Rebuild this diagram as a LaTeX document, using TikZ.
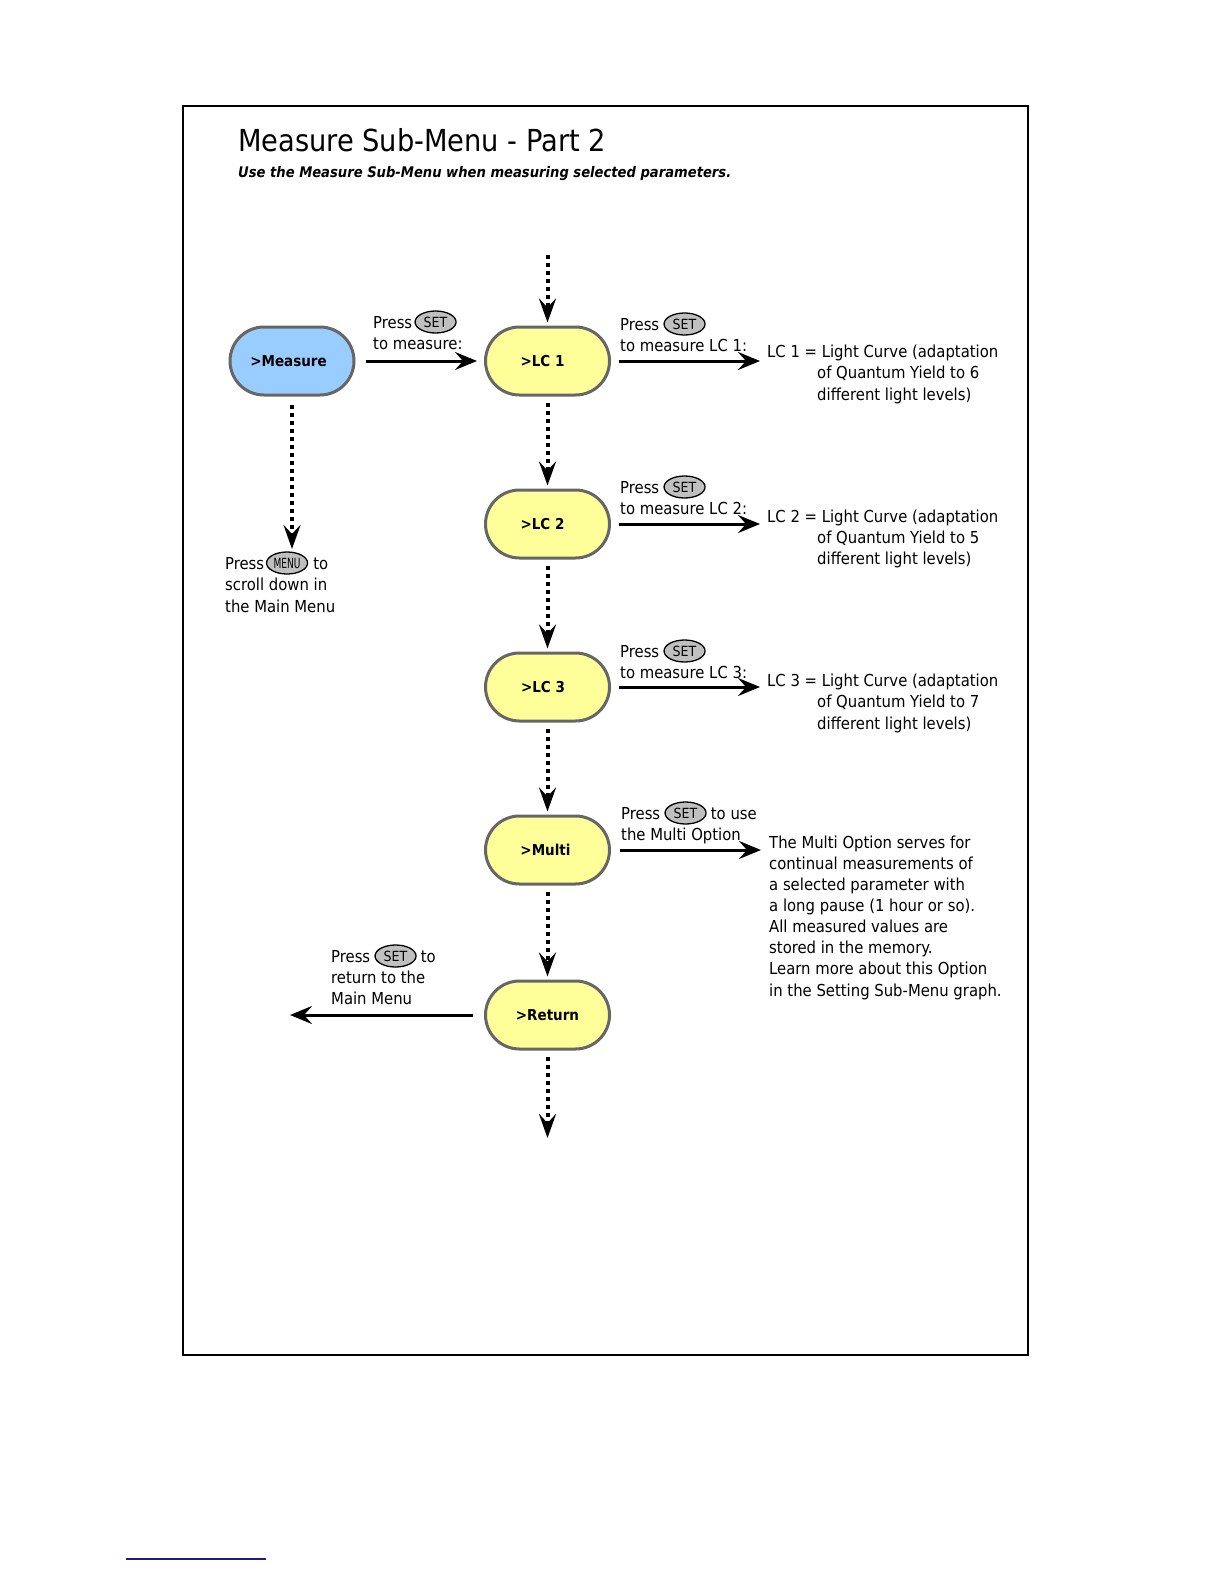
\documentclass[tikz,border=0pt]{standalone}
\usepackage{fontspec}
\usepackage{graphicx}
\setmainfont{DejaVu Sans Condensed}
\usetikzlibrary{arrows.meta,shapes.geometric,calc}
\definecolor{nodeblue}{HTML}{99CCFF}
\definecolor{nodeyellow}{HTML}{FFFF99}
\definecolor{nodeborder}{HTML}{666666}
\definecolor{btngray}{HTML}{C0C0C0}
\definecolor{rulenavy}{HTML}{1A1A8C}
\begin{document}
\begin{tikzpicture}[x=1pt,y=-1pt,
 menubox/.style={draw=nodeborder, line width=3pt, rounded corners=34pt, minimum width=124pt, minimum height=68pt, font=\bfseries\fontsize{15}{18}\selectfont, inner sep=0},
 yellowbox/.style={menubox, fill=nodeyellow},
 txt/.style={anchor=base west, inner sep=0, font=\fontsize{16.5}{19}\selectfont},
 btn/.style={ellipse, draw, line width=1.3pt, fill=btngray, minimum width=41pt, minimum height=22pt, inner sep=0, font=\fontsize{14}{15}\selectfont, anchor=west},
 solidarrow/.style={line width=3pt, -{Stealth[length=22pt,width=18pt,inset=8pt]}},
 dotarrow/.style={line width=4pt, dash pattern=on 4pt off 4pt, -{Stealth[length=24pt,width=17pt,inset=9pt]}}]
\useasboundingbox (0,0) rectangle (1224,1584);
\fill[white] (0,0) rectangle (1224,1584);
% frame
\draw[line width=2pt] (183,106) rectangle (1028,1355);
% title
\node[anchor=base west, inner sep=0, font=\fontsize{30.3}{36}\selectfont] (title) at (238,151) {Measure Sub-Menu - Part 2};
\node[anchor=base west, inner sep=0, font=\bfseries\itshape\fontsize{14.6}{18}\selectfont] (subtitle) at (238,177) {Use the Measure Sub-Menu when measuring selected parameters.};
% menu boxes
\node[menubox, fill=nodeblue] (measure) at (292,361) {\kern-7pt>Measure};
\node[yellowbox] (lc1) at (547.5,361) {\kern-10pt>LC 1};
\node[yellowbox] (lc2) at (547.5,524) {\kern-10pt>LC 2};
\node[yellowbox] (lc3) at (547.5,687) {\kern-9pt>LC 3};
\node[yellowbox] (multi) at (547.5,850) {\kern-4pt>Multi};
\node[yellowbox] (ret) at (547.5,1015) {>Return};
% free ends
\coordinate (topin) at (547.5,255);
\coordinate (measuredown) at (292,549);
\coordinate (botout) at (547.5,1138);
\coordinate (e0) at (760,361);
\coordinate (e1) at (760,524);
\coordinate (e2) at (760,687);
\coordinate (e3) at (761,850);
\coordinate (rl) at (290,1015);
% dotted arrows
\draw[dotarrow, shorten >=3pt] (topin) -- (lc1.north);
\draw[dotarrow, shorten <=6pt, shorten >=3pt] (lc1.south) -- (lc2.north);
\draw[dotarrow, shorten <=6pt, shorten >=3pt] (lc2.south) -- (lc3.north);
\draw[dotarrow, shorten <=6pt, shorten >=3pt] (lc3.south) -- (multi.north);
\draw[dotarrow, shorten <=6pt, shorten >=3pt] (multi.south) -- (ret.north);
\draw[dotarrow, shorten <=6pt] (ret.south) -- (botout);
\draw[dotarrow, shorten <=8pt] (measure.south) -- (measuredown);
% solid arrows
\draw[solidarrow, shorten <=10pt, shorten >=7pt] (measure.east) -- (lc1.west);
\draw[solidarrow, shorten <=8pt] (lc1.east) -- (e0);
\draw[solidarrow, shorten <=8pt] (lc2.east) -- (e1);
\draw[solidarrow, shorten <=8pt] (lc3.east) -- (e2);
\draw[solidarrow, shorten <=9pt] (multi.east) -- (e3);
\draw[solidarrow, shorten <=11pt] (ret.west) -- (rl);
% labels: Measure -> LC1
\node[txt] (p0) at (373,328) {Press};
\node[btn] (b0) at ($(p0.base east)+(2,-6)$) {SET};
\node[txt] (p0b) at (373,349) {to measure:};
% LC1
\node[txt] (p1) at (620,330) {Press};
\node[btn] (b1) at ($(p1.base east)+(4,-6)$) {SET};
\node[txt] (p1b) at (620,351) {to measure LC 1:};
\node[txt] (d1a) at (767,357) {LC 1 = Light Curve (adaptation};
\node[txt] (d1b) at (817,378) {of Quantum Yield to 6};
\node[txt] (d1c) at (817,400) {different light levels)};
% LC2
\node[txt] (p2) at (620,493) {Press};
\node[btn] (b2) at ($(p2.base east)+(4,-6)$) {SET};
\node[txt] (p2b) at (620,514) {to measure LC 2:};
\node[txt] (d2a) at (767,522) {LC 2 = Light Curve (adaptation};
\node[txt] (d2b) at (817,543) {of Quantum Yield to 5};
\node[txt] (d2c) at (817,564) {different light levels)};
% LC3
\node[txt] (p3) at (620,657) {Press};
\node[btn] (b3) at ($(p3.base east)+(4,-6)$) {SET};
\node[txt] (p3b) at (620,678) {to measure LC 3:};
\node[txt] (d3a) at (767,686) {LC 3 = Light Curve (adaptation};
\node[txt] (d3b) at (817,707) {of Quantum Yield to 7};
\node[txt] (d3c) at (817,729) {different light levels)};
% Multi
\node[txt] (p4) at (621,819) {Press};
\node[btn] (b4) at ($(p4.base east)+(4,-6)$) {SET};
\node[txt] (p4c) at ($(b4.east)+(4,6)$) {to use};
\node[txt] (p4b) at (621,840) {the Multi Option};
\node[txt] (m1) at (769,848) {The Multi Option serves for};
\node[txt] (m2) at (769,869) {continual measurements of};
\node[txt] (m3) at (769,890) {a selected parameter with};
\node[txt] (m4) at (769,911) {a long pause (1 hour or so).};
\node[txt] (m5) at (769,932) {All measured values are};
\node[txt] (m6) at (769,953) {stored in the memory.};
\node[txt] (m7) at (769,974) {Learn more about this Option};
\node[txt] (m8) at (769,996) {in the Setting Sub-Menu graph.};
% Menu scroll
\node[txt] (p5) at (225,569) {Press};
\node[btn] (b5) at ($(p5.base east)+(1.5,-6)$) {\scalebox{0.72}[1]{MENU}};
\node[txt] (p5c) at ($(b5.east)+(5,6)$) {to};
\node[txt] (p5b) at (225,590) {scroll down in};
\node[txt] (p5d) at (225,612) {the Main Menu};
% Return
\node[txt] (p6) at (331,962) {Press};
\node[btn] (b6) at ($(p6.base east)+(4,-6)$) {SET};
\node[txt] (p6c) at ($(b6.east)+(4,6)$) {to};
\node[txt] (p6b) at (331,983) {return to the};
\node[txt] (p6d) at (331,1004) {Main Menu};
% footnote rule
\draw[rulenavy, line width=1.5pt] (126,1559) -- (266,1559);
\end{tikzpicture}
\end{document}
